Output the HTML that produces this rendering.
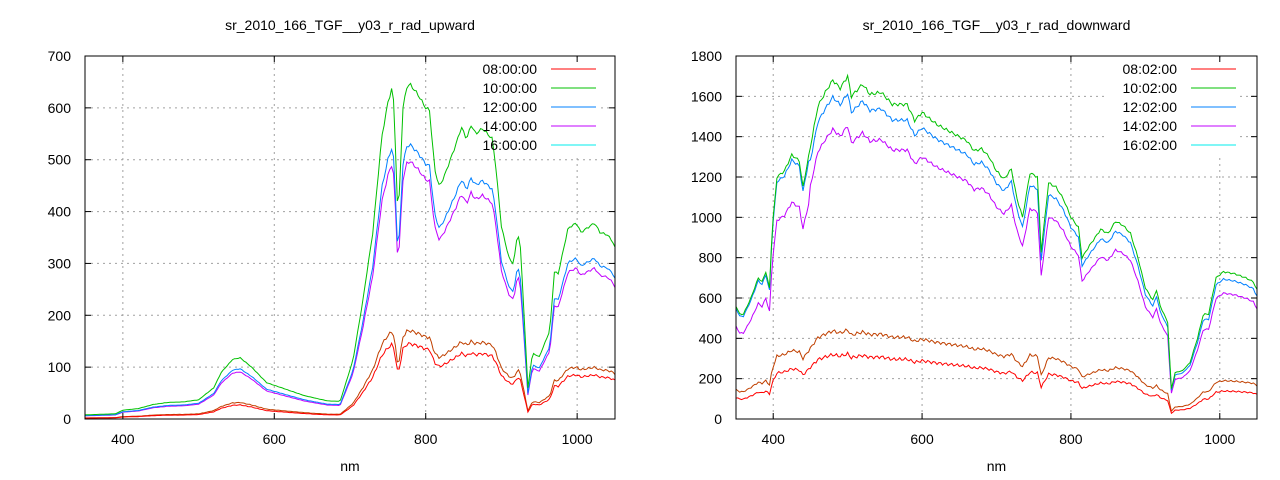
<!DOCTYPE html>
<html><head><meta charset="utf-8"><style>
html,body{margin:0;padding:0;background:#fff;}
svg{display:block;font-family:"Liberation Sans",sans-serif;}
</style></head><body>
<svg id="s" width="1280" height="480" xmlns="http://www.w3.org/2000/svg"></svg>
<script>
const S=document.getElementById('s');
let out='';
function interp(pts,x){for(let i=0;i<pts.length-1;i++){if(x>=pts[i][0]&&x<=pts[i+1][0]){const t=(x-pts[i][0])/(pts[i+1][0]-pts[i][0]);return pts[i][1]+t*(pts[i+1][1]-pts[i][1]);}}return pts[pts.length-1][1];}
const greenL=[[350,8],[390,10],[400,17],[420,20],[440,28],[460,32],[480,33],[500,37],[520,60],[530,90],[545,115],[555,118],[570,100],[590,70],[610,60],[640,45],[670,35],[687,34],[704,114],[717,229],[730,358],[742,544],[750,610],[755,636],[759,600],[761.5,416],[765,430],[770,600],[775,640],[779,646],[790,625],[800,600],[805,595],[812,480],[818,448],[825,470],[840,530],[847,563],[854,540],[860,567],[866,550],[875,560],[888,540],[893,480],[900,372],[905,340],[911,306],[916,300],[921.6,361],[925,330],[930,200],[935,60],[941,127],[950,120],[964,171],[970,284],[975,280],[988,368],[999,378],[1005,360],[1023,378],[1030,360],[1040,355],[1047,342],[1050,330]];
const greenR=[[350,560],[355,520],[360,520],[370,600],[380,700],[385,680],[390,730],[395,650],[398,900],[400,1000],[405,1200],[415,1230],[425,1310],[435,1280],[440,1150],[450,1350],[460,1550],[470,1620],[480,1680],[490,1640],[500,1700],[505,1600],[520,1660],[530,1610],[545,1620],[560,1560],[580,1560],[590,1480],[600,1520],[620,1460],[640,1420],[660,1380],[670,1330],[680,1340],[690,1300],[700,1230],[710,1190],[720,1240],[727,1100],[735,1000],[745,1220],[755,1200],[760,830],[765,1000],[770,1170],[780,1150],[790,1090],[800,1000],[810,950],[815,800],[825,860],[840,940],[850,920],[860,980],[870,960],[880,920],[890,800],[900,650],[910,590],[915,640],[920,560],[930,480],[935,150],[940,230],[950,240],[960,280],[970,400],[978,520],[985,520],[995,700],[1005,730],[1020,720],[1035,700],[1045,680],[1050,640]];
function plot(o){
 const {x0,x1,y0,y1,ymax,ystep,title,labels,base,ratios,cols}=o;
 const X=v=>x0+(v-350)/700*(x1-x0), Y=v=>y1-(v/ymax)*(y1-y0);
 for(let v=ystep;v<ymax;v+=ystep){out+=`<line x1="${x0}" x2="${x1}" y1="${Y(v)}" y2="${Y(v)}" stroke="#a0a0a0" stroke-dasharray="2,4"/>`;}
 for(const n of [400,600,800,1000]){out+=`<line x1="${X(n)}" x2="${X(n)}" y1="${y0}" y2="${y1}" stroke="#a0a0a0" stroke-dasharray="2,4"/>`;}
 out+=`<rect x="${o.lx-72}" y="60" width="134" height="95" fill="#fff"/>`;
 out+=`<clipPath id="c${o.id}"><rect x="${x0}" y="${y0}" width="${x1-x0}" height="${y1-y0}"/></clipPath>`;
 for(let c=ratios.length-1;c>=0;c--){let p=[];for(let n=350;n<=1050;n+=2.5){let v=interp(base,n);let r=ratios[c];let rr=typeof r==='function'?r(n):r;let val=v*rr+Math.sin(n*1.7+c)*v*0.005;p.push(X(n).toFixed(1)+','+Y(Math.max(val,0)).toFixed(1));}
  out+=`<polyline fill="none" stroke="${cols[c]}" stroke-width="1" points="${p.join(' ')}" clip-path="url(#c${o.id})"/>`;}
 const lc=['#ff0000','#00c000','#0080ff','#c000ff','#00eeee'];
 labels.forEach((t,i)=>{const y=69+i*19;out+=`<text x="${o.lx}" y="${y+5}" font-size="14" text-anchor="end" fill="#000">${t}</text><line x1="${o.lx+14}" x2="${o.lx+59}" y1="${y}" y2="${y}" stroke="${lc[i]}"/>`;});
 out+=`<rect x="${x0}" y="${y0}" width="${x1-x0}" height="${y1-y0}" fill="none" stroke="#000" stroke-width="1"/>`;
 for(let v=0;v<=ymax;v+=ystep){out+=`<line x1="${x0}" x2="${x0+6}" y1="${Y(v)}" y2="${Y(v)}" stroke="#000"/><line x1="${x1-6}" x2="${x1}" y1="${Y(v)}" y2="${Y(v)}" stroke="#000"/><text x="${x0-14}" y="${Y(v)+5}" font-size="14" text-anchor="end" fill="#000">${v}</text>`;}
 for(const n of [400,600,800,1000]){out+=`<line x1="${X(n)}" x2="${X(n)}" y1="${y1}" y2="${y1-6}" stroke="#000"/><line x1="${X(n)}" x2="${X(n)}" y1="${y0}" y2="${y0+6}" stroke="#000"/><text x="${X(n)}" y="${y1+25}" font-size="14" text-anchor="middle" fill="#000">${n}</text>`;}
 out+=`<text x="${(x0+x1)/2}" y="30" font-size="14" text-anchor="middle" fill="#000">${title}</text>`;
 out+=`<text x="${(x0+x1)/2}" y="471" font-size="14" text-anchor="middle" fill="#000">nm</text>`;
}
const cols=['#ff0000','#00c000','#0080ff','#c000ff','#c04000'];
plot({id:1,x0:85,x1:615,y0:56,y1:419,ymax:700,ystep:100,title:'sr_2010_166_TGF__y03_r_rad_upward',lx:537,
 labels:['08:00:00','10:00:00','12:00:00','14:00:00','16:00:00'],base:greenL,
 ratios:[n=>n<690?0.23:0.225,1,0.82,0.77,n=>n<690?0.27:0.264],cols});
plot({id:2,x0:736,x1:1257,y0:56,y1:419,ymax:1800,ystep:200,title:'sr_2010_166_TGF__y03_r_rad_downward',lx:1177,
 labels:['08:02:00','10:02:00','12:02:00','14:02:00','16:02:00'],base:greenR,
 ratios:[0.19,1,n=>n<450?0.98:0.95,n=>n<450?0.82:0.855,0.26],cols});
S.innerHTML=out;
</script>
</body></html>
